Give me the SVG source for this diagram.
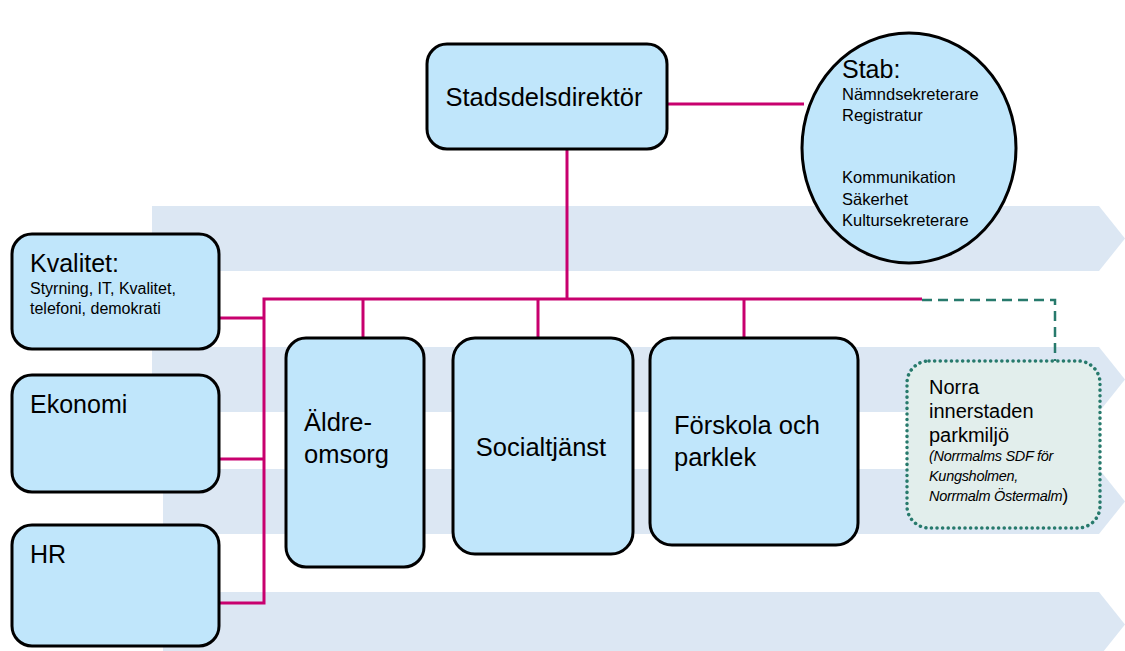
<svg xmlns="http://www.w3.org/2000/svg" width="1125" height="651" viewBox="0 0 1125 651">
<style>
.band{fill:#dce7f3}
.box{fill:#c0e6fb;stroke:#000;stroke-width:3}
.t{font-family:"Liberation Sans",Arial,sans-serif;fill:#000}
.con{stroke:#c8006e;stroke-width:3;fill:none}
.dash{stroke:#277a6c;stroke-width:2.5;fill:none;stroke-dasharray:10 6}
</style>
<g id="bands">
<polygon class="band" points="152,206 1099,206 1125,238.5 1099,271 152,271"/>
<polygon class="band" points="152,347 1099,347 1125,379.5 1099,412 152,412"/>
<polygon class="band" points="163,469 1099,469 1125,501.5 1099,534 163,534"/>
<polygon class="band" points="163,592 1099,592 1125,624.5 1099,657 163,657"/>
</g>
<g id="connectors">
<line class="con" x1="667" y1="104" x2="804" y2="104"/>
<line class="con" x1="567" y1="149" x2="567" y2="299"/>
<polyline class="con" points="922,299 264,299 264,603 219,603"/>
<line class="con" x1="219" y1="318" x2="264" y2="318"/>
<line class="con" x1="219" y1="459" x2="264" y2="459"/>
<line class="con" x1="363" y1="299" x2="363" y2="338"/>
<line class="con" x1="538" y1="299" x2="538" y2="338"/>
<line class="con" x1="744" y1="299" x2="744" y2="338"/>
<polyline class="dash" points="922,300 1055,300 1055,361"/>
</g>
<g id="stadsdelsdirektor">
<rect class="box" x="427" y="44" width="240" height="105" rx="20"/>
<text class="t" x="544" y="106" font-size="25.5" text-anchor="middle">Stadsdelsdirektör</text>
</g>
<g id="stab">
<ellipse class="box" cx="909" cy="148" rx="107" ry="115"/>
<text class="t" x="842" y="78" font-size="25">Stab:</text>
<text class="t" x="842" y="100" font-size="16.5">Nämndsekreterare</text>
<text class="t" x="842" y="121" font-size="16.5">Registratur</text>
<text class="t" x="842" y="183" font-size="16.5">Kommunikation</text>
<text class="t" x="842" y="205" font-size="16.5">Säkerhet</text>
<text class="t" x="842" y="226" font-size="16.5">Kultursekreterare</text>
</g>
<g id="kvalitet">
<rect class="box" x="12" y="234" width="207" height="115" rx="20"/>
<text class="t" x="30" y="272" font-size="25">Kvalitet:</text>
<text class="t" x="30" y="294" font-size="16">Styrning, IT, Kvalitet,</text>
<text class="t" x="30" y="314" font-size="16">telefoni, demokrati</text>
</g>
<g id="ekonomi">
<rect class="box" x="12" y="375" width="207" height="117" rx="20"/>
<text class="t" x="30" y="413" font-size="25">Ekonomi</text>
</g>
<g id="hr">
<rect class="box" x="12" y="525" width="207" height="121" rx="20"/>
<text class="t" x="30" y="563" font-size="25">HR</text>
</g>
<g id="aldreomsorg">
<rect class="box" x="286" y="338" width="138" height="229" rx="20"/>
<text class="t" x="304" y="431" font-size="25.5">Äldre-</text>
<text class="t" x="304" y="463" font-size="25.5">omsorg</text>
</g>
<g id="socialtjanst">
<rect class="box" x="453" y="338" width="180" height="216" rx="22"/>
<text class="t" x="541" y="456" font-size="25.5" text-anchor="middle">Socialtjänst</text>
</g>
<g id="forskola">
<rect class="box" x="650" y="338" width="208" height="207" rx="22"/>
<text class="t" x="674" y="434" font-size="25.5">Förskola och</text>
<text class="t" x="674" y="466" font-size="25.5">parklek</text>
</g>
<g id="norra">
<rect x="907" y="361" width="193" height="167" rx="22" fill="#e2eeec" stroke="#277a6c" stroke-width="3.5" stroke-dasharray="0.1 5.5" stroke-linecap="round"/>
<text class="t" x="929" y="394" font-size="20">Norra</text>
<text class="t" x="929" y="418" font-size="20">innerstaden</text>
<text class="t" x="929" y="442" font-size="20">parkmiljö</text>
<text class="t" x="929" y="461" font-size="14.5" font-style="italic" letter-spacing="-0.3">(Norrmalms SDF för</text>
<text class="t" x="929" y="481" font-size="14.5" font-style="italic" letter-spacing="-0.3">Kungsholmen,</text>
<text class="t" x="929" y="501" font-size="14.5" letter-spacing="-0.3"><tspan font-style="italic">Norrmalm Östermalm</tspan><tspan font-size="18">)</tspan></text>
</g>
</svg>
